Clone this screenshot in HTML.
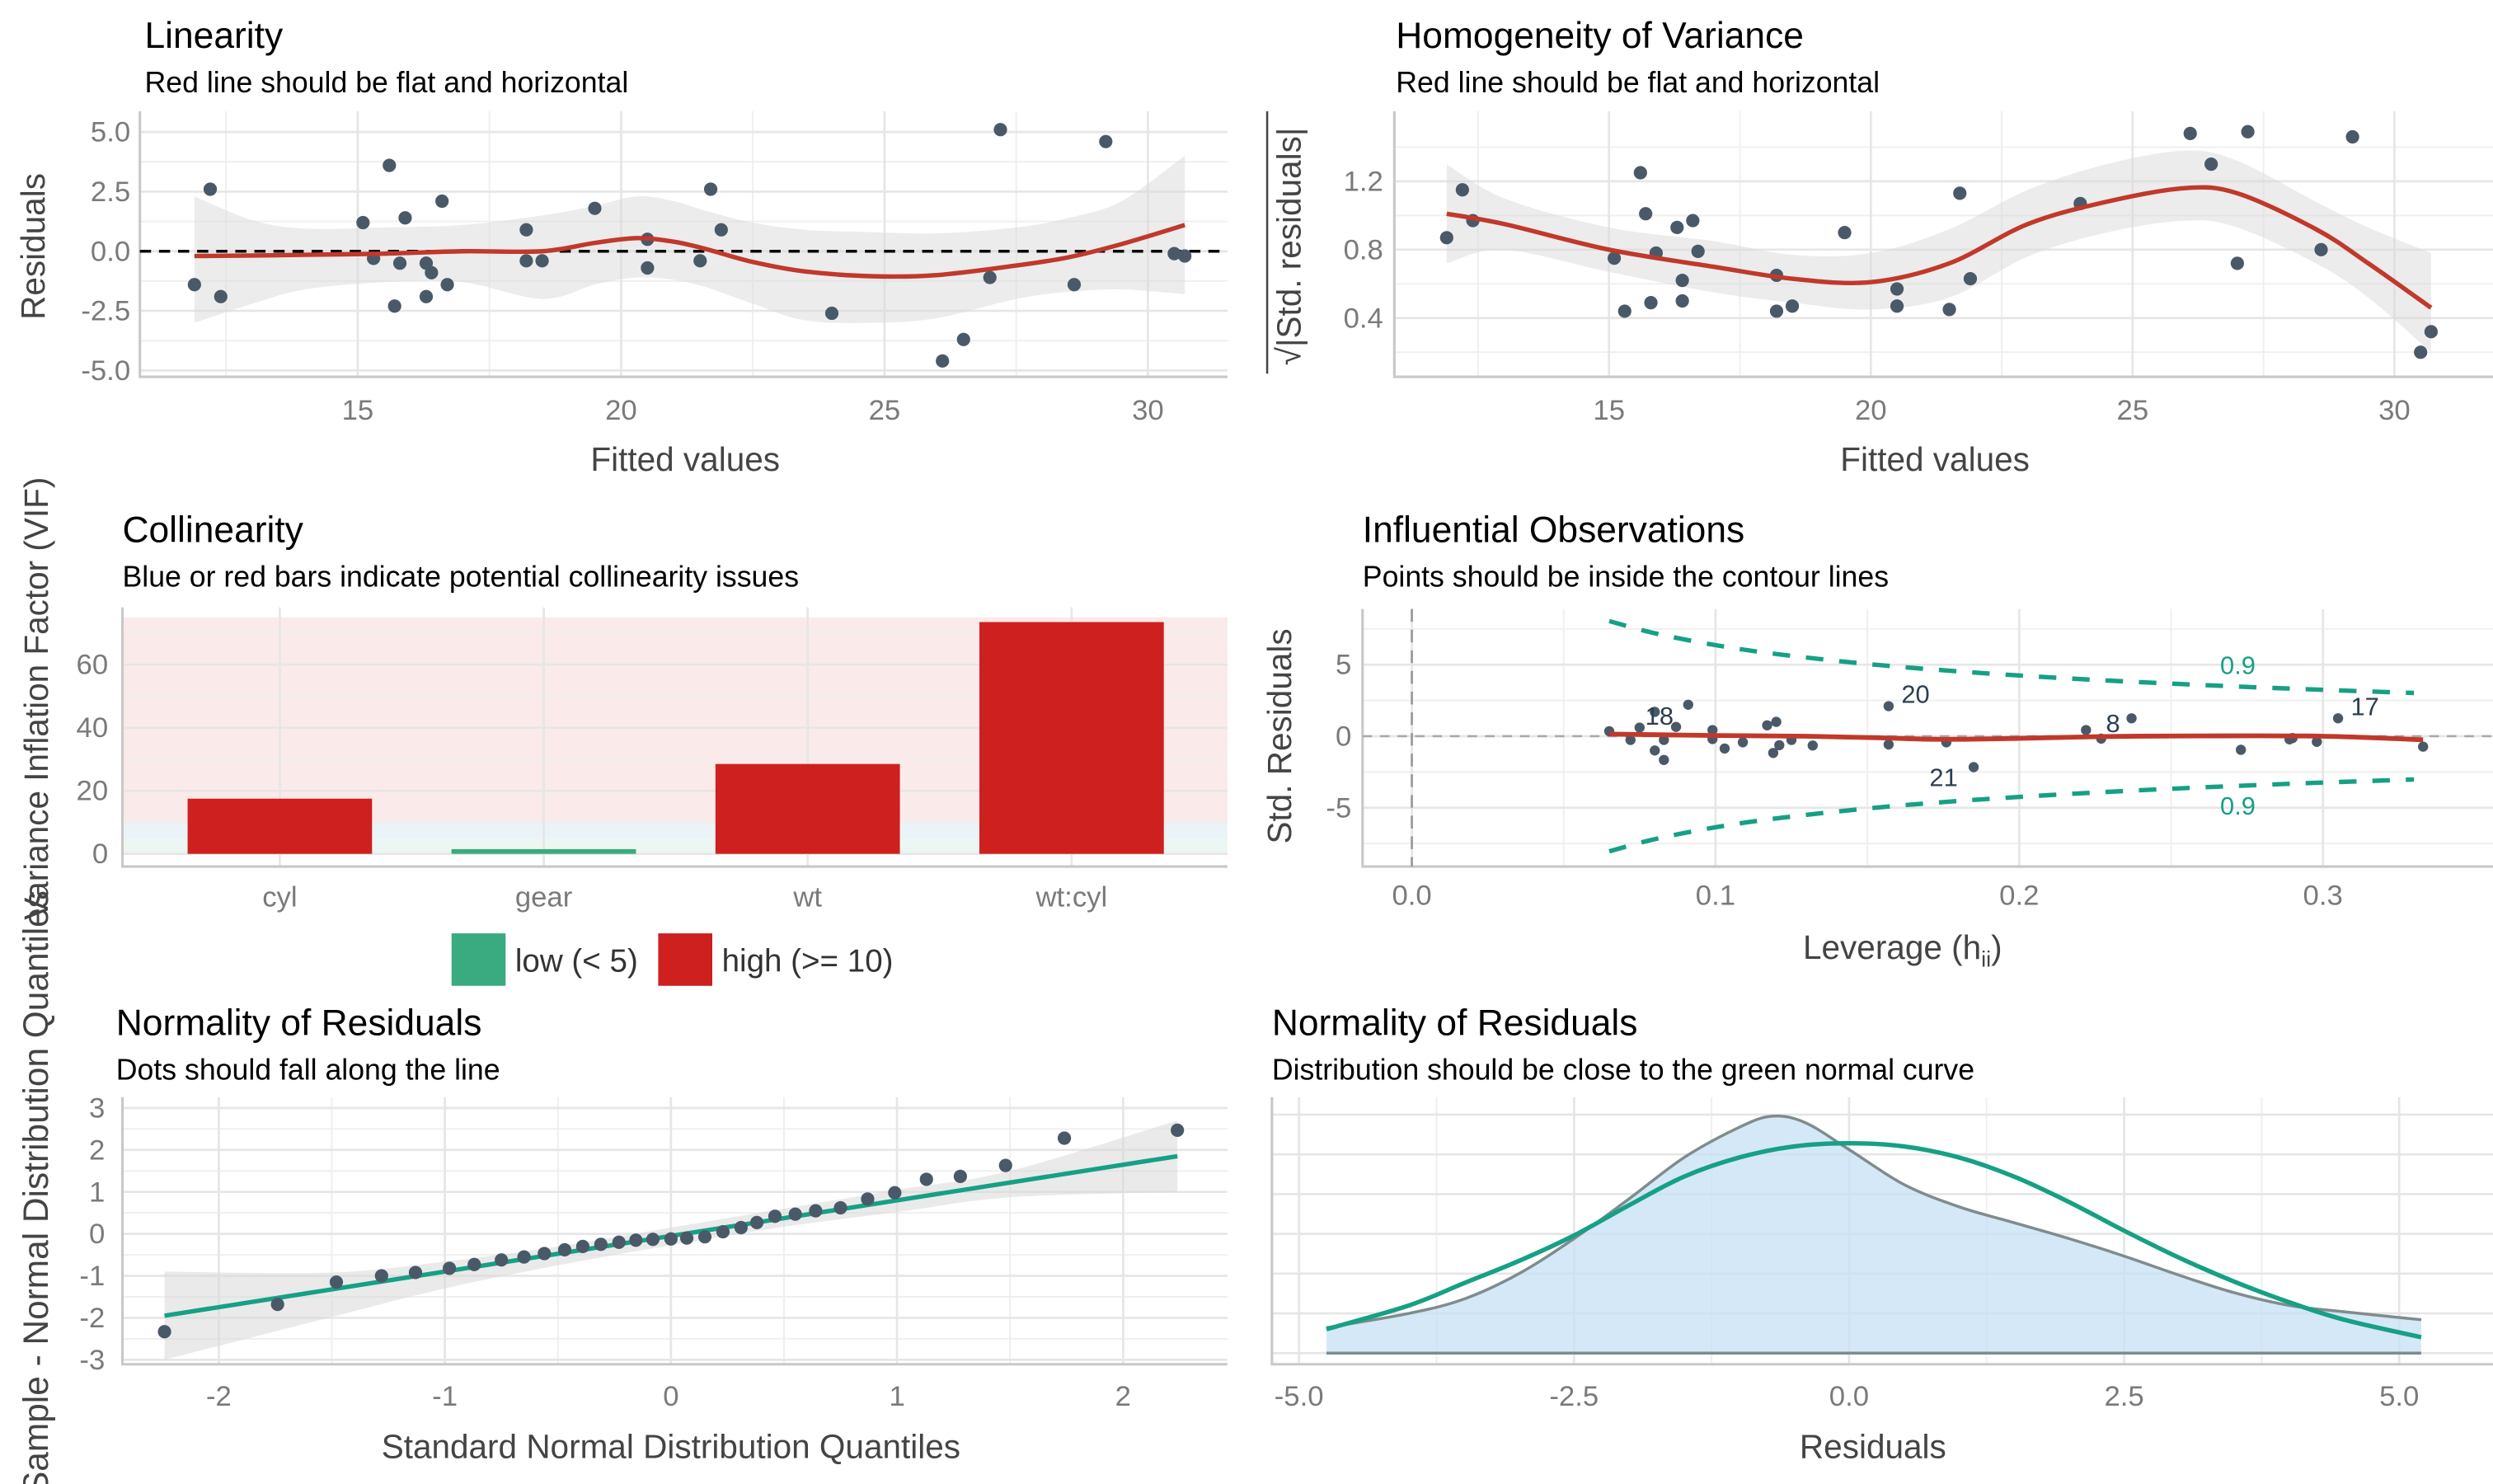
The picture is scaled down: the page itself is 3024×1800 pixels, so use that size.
<!DOCTYPE html>
<html><head><meta charset="utf-8">
<style>
html,body{margin:0;padding:0;background:#fff;overflow:hidden;width:3024px;height:1800px;}
svg{display:block;font-family:"Liberation Sans",sans-serif;overflow:hidden;}
</style></head>
<body>
<svg id="root" width="3024" height="1800" viewBox="0 0 1568 933.3" xmlns="http://www.w3.org/2000/svg"></svg>
<script>
// ---------- Panel 1: Linearity ----------
const linFitted = [11.9,12.2,12.4,15.1,15.3,15.6,15.7,15.8,15.9,16.3,16.4,16.3,16.6,16.7,18.2,18.2,18.5,19.5,20.5,20.5,21.5,21.7,21.9,24.0,26.1,26.5,27.0,27.2,28.6,29.2,30.5,30.7];
const linResid = [-1.4,2.6,-1.9,1.2,-0.3,3.6,-2.3,-0.5,1.4,-0.5,-0.9,-1.9,2.1,-1.4,0.9,-0.4,-0.4,1.8,0.5,-0.7,-0.4,2.6,0.9,-2.6,-4.6,-3.7,-1.1,5.1,-1.4,4.6,-0.1,-0.2];
const linSmoothX = [11.9,13,14,15.5,17,18.5,19.5,20.3,21,21.6,22.5,23.5,24.8,26,27.5,28.5,29.5,30.7];
const linSmoothY = [-0.2,-0.18,-0.15,-0.1,0.0,0.0,0.35,0.55,0.4,0.1,-0.45,-0.85,-1.05,-1.0,-0.6,-0.25,0.3,1.1];
const linBandHi = [2.3,1.3,0.95,1.0,1.1,1.5,1.9,2.3,2.1,1.7,1.2,0.9,0.8,0.75,1.0,1.4,2.1,4.0];
const linBandLo = [-3.0,-2.2,-1.6,-1.3,-1.3,-2.0,-1.4,-1.1,-1.2,-1.5,-2.2,-2.9,-3.0,-2.8,-2.0,-1.7,-1.6,-1.8];
const linXTicks = [15,20,25,30];
const linYTicks = [-5,-2.5,0,2.5,5];
const linYTickLabels = ["-5.0","-2.5","0.0","2.5","5.0"];

// ---------- Panel 2: Homogeneity ----------
const homFitted = [11.9,12.2,12.4,15.1,15.3,15.6,15.7,15.8,15.9,16.3,16.4,16.4,16.6,16.7,18.2,18.2,18.5,19.5,20.5,20.5,21.5,21.7,21.9,24.0,26.1,26.5,27.0,27.2,28.6,29.2,30.5,30.7];
const homSqrt = [0.87,1.15,0.97,0.75,0.44,1.25,1.01,0.49,0.78,0.93,0.5,0.62,0.97,0.79,0.65,0.44,0.47,0.9,0.57,0.47,0.45,1.13,0.63,1.07,1.48,1.3,0.72,1.49,0.8,1.46,0.2,0.32];
const homSmoothX = [11.9,13,15,17,18.5,20,21.5,23,24.5,26,27,28.5,29.5,30.7];
const homSmoothY = [1.01,0.95,0.8,0.7,0.63,0.61,0.72,0.95,1.08,1.16,1.13,0.92,0.72,0.46];
const homBandHi = [1.3,1.1,0.93,0.85,0.77,0.78,0.92,1.15,1.3,1.38,1.32,1.08,0.93,0.78];
const homBandLo = [0.72,0.8,0.67,0.55,0.49,0.45,0.52,0.76,0.9,0.97,0.93,0.72,0.52,0.2];
const homXTicks = [15,20,25,30];
const homYTicks = [0.4,0.8,1.2];

// ---------- Panel 3: Collinearity ----------
const vifTerms = ["cyl","gear","wt","wt:cyl"];
const vifValues = [17.5,1.5,28.5,73.5];
const vifYTicks = [0,20,40,60];

// ---------- Panel 4: Influential ----------
const levH = [0.065,0.072,0.075,0.080,0.080,0.083,0.083,0.087,0.091,0.099,0.099,0.103,0.109,0.117,0.120,0.119,0.121,0.125,0.132,0.157,0.157,0.176,0.185,0.222,0.227,0.237,0.273,0.289,0.290,0.298,0.305,0.333];
const levR = [0.35,-0.26,0.6,1.7,-1.0,-0.26,-1.66,0.65,2.2,0.43,-0.2,-0.86,-0.43,0.76,1.0,-1.17,-0.63,-0.26,-0.65,2.1,-0.58,-0.43,-2.16,0.43,-0.17,1.25,-0.95,-0.22,-0.13,-0.39,1.25,-0.73];
const levLabels = ["18","20","21","8","17"];
const levLabelIdx = [3,19,22,24,30];
const levSmoothX = [0.065,0.1,0.13,0.155,0.175,0.2,0.23,0.26,0.3,0.333];
const levSmoothY = [0.15,0.05,0.0,-0.12,-0.22,-0.15,-0.02,0.02,0.0,-0.25];
const cookLevel = 0.9;
const cookP = 5;
const cookH = [0.065,0.08,0.1,0.12,0.15,0.18,0.21,0.24,0.27,0.3,0.33];
const levXTicks = [0,0.1,0.2,0.3];
const levXTickLabels = ["0.0","0.1","0.2","0.3"];
const levYTicks = [-5,0,5];

// ---------- Panel 5: QQ ----------
const qqTheo = [-2.24,-1.74,-1.48,-1.28,-1.13,-0.98,-0.87,-0.75,-0.65,-0.56,-0.47,-0.39,-0.31,-0.23,-0.155,-0.08,0,0.07,0.15,0.23,0.31,0.38,0.46,0.55,0.64,0.75,0.87,0.99,1.13,1.28,1.48,1.74,2.24];
const qqSample = [-2.33,-1.68,-1.15,-1.0,-0.92,-0.82,-0.73,-0.62,-0.55,-0.47,-0.38,-0.3,-0.25,-0.2,-0.15,-0.13,-0.12,-0.1,-0.07,0.05,0.15,0.27,0.42,0.47,0.55,0.62,0.83,0.98,1.3,1.37,1.63,2.28,2.47];
const qqLineX = [-2.24,2.24];
const qqLineY = [-1.95,1.85];
const qqBandX = [-2.24,-1.5,-1,-0.5,0,0.5,1,1.5,2.24];
const qqBandHi = [-0.9,-0.92,-0.66,-0.3,0.15,0.6,1.05,1.5,2.7];
const qqBandLo = [-3.0,-1.98,-1.3,-0.75,-0.27,0.17,0.52,0.87,1.0];
const qqXTicks = [-2,-1,0,1,2];
const qqYTicks = [-3,-2,-1,0,1,2,3];

// ---------- Panel 6: Density ----------
const densX = [-4.75,-4,-3.5,-3,-2.5,-2,-1.5,-1,-0.7,-0.4,0,0.5,1,1.5,2,2.5,3,3.5,4,4.5,5.2];
const densY = [0.016,0.025,0.034,0.05,0.072,0.097,0.123,0.142,0.149,0.145,0.128,0.106,0.092,0.082,0.072,0.061,0.049,0.038,0.03,0.026,0.021];
const normX = [-4.75,-4,-3.5,-3,-2.5,-2,-1.5,-1,-0.5,0,0.5,1,1.5,2,2.5,3,3.5,4,4.5,5.2];
const normY = [0.015,0.03,0.044,0.058,0.074,0.093,0.111,0.123,0.130,0.132,0.130,0.123,0.111,0.095,0.077,0.06,0.045,0.032,0.021,0.01];
const densXTicks = [-5,-2.5,0,2.5,5];
const densXTickLabels = ["-5.0","-2.5","0.0","2.5","5.0"];

// ---------- helpers ----------
const NS = "http://www.w3.org/2000/svg";
const root = document.getElementById('root');
function mk(tag, attrs, parent){
  const e = document.createElementNS(NS, tag);
  for (const k in attrs) e.setAttribute(k, attrs[k]);
  (parent||root).appendChild(e);
  return e;
}
function lin(d0,d1,r0,r1){ return v => r0 + (v-d0)*(r1-r0)/(d1-d0); }
function smoothPath(pts){
  if (pts.length<2) return "";
  let d = "M"+pts[0][0]+","+pts[0][1];
  for (let i=0;i<pts.length-1;i++){
    const p0=pts[i-1]||pts[i], p1=pts[i], p2=pts[i+1], p3=pts[i+2]||p2;
    const c1x=p1[0]+(p2[0]-p0[0])/6, c1y=p1[1]+(p2[1]-p0[1])/6;
    const c2x=p2[0]-(p3[0]-p1[0])/6, c2y=p2[1]-(p3[1]-p1[1])/6;
    d += " C"+c1x+","+c1y+" "+c2x+","+c2y+" "+p2[0]+","+p2[1];
  }
  return d;
}
function txt(s, x, y, attrs, parent){
  const a = Object.assign({x:x,y:y}, attrs||{});
  const t = mk('text', a, parent);
  t.textContent = s;
  return t;
}
function panel(name){
  const g = mk('g', {});
  
  
  return g;
}
function grid(g, x0,x1,y0,y1, xs, ys, major){
  const grp = mk('g', {}, g);
  
  
  const col = major ? '#e6e6e6' : '#efefef';
  const w = major ? 1.4 : 1.0;
  xs.forEach(x => mk('line',{x1:x,x2:x,y1:y0,y2:y1,stroke:col,'stroke-width':w},grp));
  ys.forEach(y => mk('line',{x1:x0,x2:x1,y1:y,y2:y,stroke:col,'stroke-width':w},grp));
}
function axes(g,x0,x1,y0,y1){
  const a = mk('path',{d:`M${x0},${y0} L${x0},${y1} L${x1},${y1}`,fill:'none',stroke:'#c8c8c8','stroke-width':1.6},g);
  
  
}
function titles(g,x,ty,title,sub){
  const t = txt(title,x,ty,{'font-size':23,fill:'#000'},g);
  
  
  const s = txt(sub,x,ty+28,{'font-size':18.5,fill:'#000'},g);
  
  
}
const TICK = {'font-size':18,fill:'#7a7a7a'};
const AXT = {'font-size':21,fill:'#444'};
const PT = '#4a5968';
const RED = '#c0392b';
const TEAL = '#16a085';

// ===== Panel 1 =====
(function(){
  const g = panel('linearity-panel');
  const X0=88,X1=772,Y0=70,Y1=237;
  const sx = lin(15,30,225,722), sy = lin(0,5,158,83);
  grid(g,X0,X1,Y0,Y1,[12.5,17.5,22.5,27.5].map(sx),[-3.75,-1.25,1.25,3.75].map(sy),false);
  grid(g,X0,X1,Y0,Y1,linXTicks.map(sx),linYTicks.map(sy),true);
  axes(g,X0,X1,Y0,Y1);
  const band = linSmoothX.map((x,i)=>[sx(x),sy(linBandHi[i])]);
  const bandLo = linSmoothX.map((x,i)=>[sx(x),sy(linBandLo[i])]).reverse();
  const bp = mk('path',{d:smoothPath(band)+" L"+bandLo[0][0]+","+bandLo[0][1]+smoothPath(bandLo).replace(/^M[^C]*/,' '),fill:'#d9d9d9','fill-opacity':0.5},g);
  
  
  const ref = mk('line',{x1:X0,x2:X1,y1:sy(0),y2:sy(0),stroke:'#000','stroke-width':1.8,'stroke-dasharray':'7,5'},g);
  
  
  linFitted.forEach((f,i)=>{
    const c = mk('circle',{cx:sx(f),cy:sy(linResid[i]),r:4.2,fill:PT},g);
    
    
  });
  const lp = mk('path',{d:smoothPath(linSmoothX.map((x,i)=>[sx(x),sy(linSmoothY[i])])),fill:'none',stroke:RED,'stroke-width':2.8},g);
  
  
  linXTicks.forEach(v=>{ const t=txt(String(v),sx(v),264,Object.assign({'text-anchor':'middle'},TICK),g);   });
  linYTicks.forEach((v,i)=>{ const t=txt(linYTickLabels[i],82,sy(v)+6,Object.assign({'text-anchor':'end'},TICK),g);   });
  const xt = txt('Fitted values',431,296,Object.assign({'text-anchor':'middle'},AXT),g);
   
  const yt = txt('Residuals',0,0,Object.assign({'text-anchor':'middle',transform:'translate(28,155) rotate(-90)'},AXT),g);
   
  titles(g,91,30,'Linearity','Red line should be flat and horizontal');
})();

// ===== Panel 2 =====
(function(){
  const g = panel('homogeneity-panel');
  const X0=877,X1=1568,Y0=70,Y1=237;
  const sx = lin(15,30,1012,1506), sy = lin(0.4,1.2,200,114);
  grid(g,X0,X1,Y0,Y1,[12.5,17.5,22.5,27.5].map(sx),[0.2,0.6,1.0,1.4].map(sy),false);
  grid(g,X0,X1,Y0,Y1,homXTicks.map(sx),homYTicks.map(sy),true);
  axes(g,X0,X1,Y0,Y1);
  const band = homSmoothX.map((x,i)=>[sx(x),sy(homBandHi[i])]);
  const bandLo = homSmoothX.map((x,i)=>[sx(x),sy(homBandLo[i])]).reverse();
  const bp = mk('path',{d:smoothPath(band)+" L"+bandLo[0][0]+","+bandLo[0][1]+smoothPath(bandLo).replace(/^M[^C]*/,' '),fill:'#d9d9d9','fill-opacity':0.5},g);
  
  
  homFitted.forEach((f,i)=>{
    const c = mk('circle',{cx:sx(f),cy:sy(homSqrt[i]),r:4.2,fill:PT},g);
    
    
  });
  const lp = mk('path',{d:smoothPath(homSmoothX.map((x,i)=>[sx(x),sy(homSmoothY[i])])),fill:'none',stroke:RED,'stroke-width':2.8},g);
  
  
  homXTicks.forEach(v=>{ const t=txt(String(v),sx(v),264,Object.assign({'text-anchor':'middle'},TICK),g);   });
  homYTicks.forEach(v=>{ const t=txt(v.toFixed(1),870,sy(v)+6,Object.assign({'text-anchor':'end'},TICK),g);   });
  const xt = txt('Fitted values',1217,296,Object.assign({'text-anchor':'middle'},AXT),g);
   
  const yt = txt('√|Std. residuals|',0,0,Object.assign({'text-anchor':'middle',transform:'translate(818,155) rotate(-90)'},AXT),g);
   
  const ol = mk('line',{x1:797,x2:797,y1:70,y2:235,stroke:'#444','stroke-width':1.3},g);
   
  titles(g,878,30,'Homogeneity of Variance','Red line should be flat and horizontal');
})();

// ===== Panel 3 =====
(function(){
  const g = panel('collinearity-panel');
  const X0=77,X1=772,Y0=382,Y1=545;
  const sy = lin(0,60,537,418);
  const cx = i => 176 + i*166;
  const bands = [[10,75,'#f8dcdc'],[5,10,'#dcecf4'],[0,5,'#dff0ea']];
  bands.forEach(b=>{
    const r = mk('rect',{x:X0,y:sy(b[1]),width:X1-X0,height:sy(b[0])-sy(b[1]),fill:b[2],'fill-opacity':0.6},g);
     
  });
  grid(g,X0,X1,Y0,Y1,[],[10,30,50,70].map(sy),false);
  grid(g,X0,X1,Y0,Y1,vifTerms.map((t,i)=>cx(i)),vifYTicks.map(sy),true);
  axes(g,X0,X1,Y0,Y1);
  vifValues.forEach((v,i)=>{
    const col = v<5 ? '#3aaa80' : (v>=10 ? '#cd201f' : '#1b6ca8');
    const r = mk('rect',{x:cx(i)-58,y:sy(v),width:116,height:sy(0)-sy(v),fill:col},g);
    
    
    const t = txt(vifTerms[i],cx(i),570,Object.assign({'text-anchor':'middle'},TICK),g);
     
  });
  vifYTicks.forEach(v=>{ const t=txt(String(v),68,sy(v)+6,Object.assign({'text-anchor':'end'},TICK),g);   });
  const yt = txt('Variance Inflation Factor (VIF)',0,0,Object.assign({'text-anchor':'end',transform:'translate(30,300) rotate(-90)'},AXT),g);
   
  const l1 = mk('rect',{x:284,y:587,width:34,height:33,fill:'#3aaa80'},g);
   
  const lt1 = txt('low (< 5)',324,611,{'font-size':20,fill:'#333'},g);
   
  const l2 = mk('rect',{x:414,y:587,width:34,height:33,fill:'#cd201f'},g);
   
  const lt2 = txt('high (>= 10)',454,611,{'font-size':20,fill:'#333'},g);
   
  titles(g,77,341,'Collinearity','Blue or red bars indicate potential collinearity issues');
})();

// ===== Panel 4 =====
(function(){
  const g = panel('influential-observations-panel');
  const X0=857,X1=1568,Y0=383,Y1=545;
  const sx = lin(0,0.1,888,1079), sy = lin(0,5,463,418);
  grid(g,X0,X1,Y0,Y1,[0.05,0.15,0.25].map(sx),[-7.5,-2.5,2.5,7.5].map(sy),false);
  grid(g,X0,X1,Y0,Y1,levXTicks.map(sx),levYTicks.map(sy),true);
  axes(g,X0,X1,Y0,Y1);
  const v0 = mk('line',{x1:sx(0),x2:sx(0),y1:Y0,y2:Y1,stroke:'#999','stroke-width':1.4,'stroke-dasharray':'8,5'},g);
   
  const h0 = mk('line',{x1:X0,x2:X1,y1:sy(0),y2:sy(0),stroke:'#aaa','stroke-width':1.4,'stroke-dasharray':'6,5'},g);
   
  [1,-1].forEach(sgn=>{
    const pts = cookH.map(h=>[sx(h),sy(sgn*Math.sqrt(cookLevel*cookP*(1-h)/h))]);
    const p = mk('path',{d:smoothPath(pts),fill:'none',stroke:TEAL,'stroke-width':2.8,'stroke-dasharray':'11,10'},g);
    
    
    const hl = 0.272;
    const t = txt('0.9',sx(hl),sy(sgn*Math.sqrt(cookLevel*cookP*(1-hl)/hl))+(sgn>0?-8:18),{'font-size':16,fill:TEAL,'text-anchor':'middle'},g);
     
  });
  levH.forEach((h,i)=>{
    const c = mk('circle',{cx:sx(h),cy:sy(levR[i]),r:3.2,fill:PT},g);
    
    
  });
  const offs = [[-6,8],[8,-2],[-10,12],[3,-4],[8,-2]];
  const anch = ['start','start','end','start','start'];
  levLabelIdx.forEach((idx,k)=>{
    const t = txt(levLabels[k],sx(levH[idx])+offs[k][0],sy(levR[idx])+offs[k][1],{'font-size':16,fill:'#2c3e50','text-anchor':anch[k]},g);
     
  });
  const lp = mk('path',{d:smoothPath(levSmoothX.map((x,i)=>[sx(x),sy(levSmoothY[i])])),fill:'none',stroke:RED,'stroke-width':3},g);
  
  
  levXTicks.forEach((v,i)=>{ const t=txt(levXTickLabels[i],sx(v),569,Object.assign({'text-anchor':'middle'},TICK),g);   });
  levYTicks.forEach(v=>{ const t=txt(String(v),850,sy(v)+6,Object.assign({'text-anchor':'end'},TICK),g);   });
  const xt = txt('Leverage (h',1134,603,AXT,g);
   
  const ts = mk('tspan',{'font-size':14,dy:5},xt); ts.textContent='ii';
  const ts2 = mk('tspan',{dy:-5},xt); ts2.textContent=')';
  const yt = txt('Std. Residuals',0,0,Object.assign({'text-anchor':'middle',transform:'translate(812,463) rotate(-90)'},AXT),g);
   
  titles(g,857,341,'Influential Observations','Points should be inside the contour lines');
})();

// ===== Panel 5 =====
(function(){
  const g = panel('qq-normality-panel');
  const X0=77,X1=772,Y0=690,Y1=858;
  const sx = lin(0,1,422,564.2), sy = lin(0,1,776,749.6);
  grid(g,X0,X1,Y0,Y1,[-1.5,-0.5,0.5,1.5].map(sx),[-2.5,-1.5,-0.5,0.5,1.5,2.5].map(sy),false);
  grid(g,X0,X1,Y0,Y1,qqXTicks.map(sx),qqYTicks.map(sy),true);
  axes(g,X0,X1,Y0,Y1);
  const hi = qqBandX.map((x,i)=>[sx(x),sy(qqBandHi[i])]);
  const lo = qqBandX.map((x,i)=>[sx(x),sy(qqBandLo[i])]).reverse();
  const bp = mk('path',{d:smoothPath(hi)+" L"+lo[0][0]+","+lo[0][1]+smoothPath(lo).replace(/^M[^C]*/,' ')+" Z",fill:'#d9d9d9','fill-opacity':0.55},g);
  
  
  const ln = mk('line',{x1:sx(qqLineX[0]),y1:sy(qqLineY[0]),x2:sx(qqLineX[1]),y2:sy(qqLineY[1]),stroke:TEAL,'stroke-width':2.8},g);
  
  
  qqTheo.forEach((q,i)=>{
    const c = mk('circle',{cx:sx(q),cy:sy(qqSample[i]),r:4.2,fill:PT},g);
    
    
  });
  qqXTicks.forEach(v=>{ const t=txt(String(v),sx(v),884,Object.assign({'text-anchor':'middle'},TICK),g);   });
  qqYTicks.forEach(v=>{ const t=txt(String(v),66,sy(v)+6,Object.assign({'text-anchor':'end'},TICK),g);   });
  const xt = txt('Standard Normal Distribution Quantiles',422,917,Object.assign({'text-anchor':'middle'},AXT),g);
   
  const yt = txt('Sample - Normal Distribution Quantiles',0,0,Object.assign({'text-anchor':'end','font-size':22,transform:'translate(30,560) rotate(-90)',fill:'#444'}),g);
   
  titles(g,73,651,'Normality of Residuals','Dots should fall along the line');
})();

// ===== Panel 6 =====
(function(){
  const g = panel('density-normality-panel');
  const X0=800,X1=1568,Y0=690,Y1=858;
  const sx = lin(0,2.5,1163,1336), sy = lin(0,0.1,851,751);
  grid(g,X0,X1,Y0,Y1,[-3.75,-1.25,1.25,3.75].map(sx),[],false);
  grid(g,X0,X1,Y0,Y1,densXTicks.map(sx),[0,0.025,0.05,0.075,0.1,0.125,0.15].map(sy),true);
  axes(g,X0,X1,Y0,Y1);
  const pts = densX.map((x,i)=>[sx(x),sy(densY[i])]);
  const area = mk('path',{d:smoothPath(pts)+` L${sx(densX[densX.length-1])},${sy(0)} L${sx(densX[0])},${sy(0)} Z`,fill:'#c7e0f4','fill-opacity':0.75,stroke:'none'},g);
  
  
  const dl = mk('path',{d:smoothPath(pts),fill:'none',stroke:'#7f8c8d','stroke-width':1.8},g);
  
  
  const base = mk('line',{x1:sx(densX[0]),x2:sx(densX[densX.length-1]),y1:sy(0),y2:sy(0),stroke:'#7f8c8d','stroke-width':1.8},g);
  
  
  const nl = mk('path',{d:smoothPath(normX.map((x,i)=>[sx(x),sy(normY[i])])),fill:'none',stroke:TEAL,'stroke-width':2.8},g);
  
  
  densXTicks.forEach((v,i)=>{ const t=txt(densXTickLabels[i],sx(v),884,Object.assign({'text-anchor':'middle'},TICK),g);   });
  const xt = txt('Residuals',1178,917,Object.assign({'text-anchor':'middle'},AXT),g);
   
  titles(g,800,651,'Normality of Residuals','Distribution should be close to the green normal curve');
})();
</script>
</body></html>
